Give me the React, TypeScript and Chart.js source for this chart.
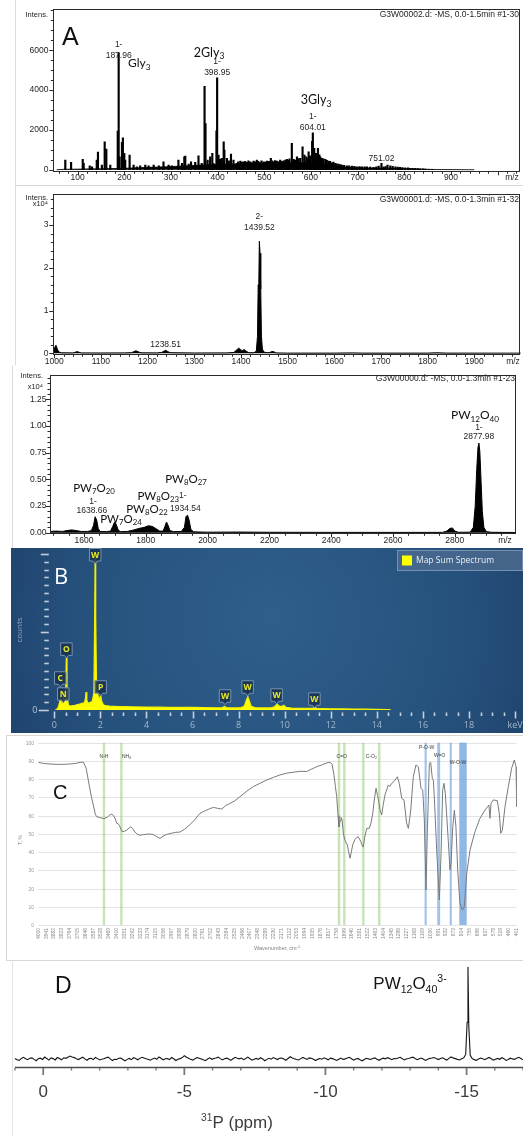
import React, { useEffect, useRef } from "react";
import { Chart, registerables } from "chart.js";

Chart.register(...registerables);

const PAGE_W = 523;
const ARIAL = '"Liberation Sans", Arial, sans-serif';
const LATO = 'Lato, "Open Sans", sans-serif';
const SEGOE = '"Open Sans", "Noto Sans", sans-serif';

type XY = [number, number];

// ================= Panel A : ESI-MS =================
const A1_X_LABELS = [100, 200, 300, 400, 500, 600, 700, 800, 900];
const A1_Y_LABELS = [0, 2000, 4000, 6000];
const A1_STICKS: XY[] = [
  [73.6, 485], [86, 370], [111, 520], [113, 320], [126, 200], [131, 150], [141, 485], [143.6, 885], [152, 230],
  [158, 1400], [161.5, 1036], [170, 234], [186, 1940], [187.96, 5870], [190, 650], [195, 1370], [197, 1600],
  [200, 820], [202, 485], [211.4, 735], [220, 234], [227, 150], [234, 200], [245, 234], [252, 200], [263, 234],
  [274, 200], [284, 400], [295, 234], [302, 200], [316, 485], [323.6, 320], [328.6, 650], [330.7, 685], [338, 284],
  [343, 400], [352, 370], [359, 700], [366, 320], [372, 4190], [374, 2320], [378.6, 485], [384, 650], [388.6, 820],
  [391, 320], [397.5, 1950], [398.95, 4610], [402, 735], [405, 520], [409, 570], [413, 1400], [414.5, 985],
  [420, 570], [424, 450], [428.6, 785], [434, 485], [441, 320], [444, 400], [448.6, 435], [452, 380], [455.7, 400],
  [459, 420], [463, 370], [466, 450], [470, 400], [473, 360], [477, 435], [480, 390], [484, 485], [487, 420],
  [490, 370], [494, 440], [498.6, 400], [502, 380], [505.7, 435], [510, 420], [514, 570], [517, 450], [520, 400],
  [523, 460], [527, 435], [531, 400], [534, 485], [537, 420], [541, 450], [545, 480], [548.6, 520], [551, 470],
  [554, 550], [559, 1320], [563, 520], [566, 480], [570, 650], [573, 560], [577, 570], [582, 1150], [586, 735],
  [590, 650], [593, 560], [595, 900], [598, 700], [602.5, 1430], [604.01, 1850], [607, 1070], [611, 820],
  [615, 1070], [618, 750], [620, 650], [623.6, 570], [627, 540], [631, 520], [634, 470], [638, 435], [641, 420],
  [645, 350], [648, 380], [652, 320], [655, 300], [659, 284], [663, 260], [666, 234], [671, 220], [677, 200],
  [682, 190], [688, 184], [693, 170], [698.6, 150], [704, 160], [709, 150], [715, 140], [720, 150], [727, 130],
  [734, 117], [740, 140], [745, 180], [751.02, 320], [755.7, 150], [760, 160], [764, 234], [770, 200], [775, 170],
  [781, 150], [786, 130], [791, 117], [796, 110], [802, 100], [808, 90], [813, 67], [818, 70], [823.6, 67],
  [829, 60], [834, 50], [840, 45], [845, 33], [852, 25], [860, 20],
];
const A1_BASELINE: XY[] = [
  [55, 0], [70, 20], [100, 30], [150, 50], [200, 70], [230, 100], [250, 120], [270, 130], [290, 150], [310, 170],
  [330, 190], [350, 220], [370, 240], [390, 260], [410, 270], [430, 280], [450, 300], [470, 310], [490, 320],
  [510, 330], [530, 340], [550, 350], [570, 340], [590, 350], [610, 320], [630, 250], [650, 190], [670, 140],
  [690, 110], [710, 95], [730, 85], [750, 80], [770, 75], [790, 65], [810, 50], [830, 35], [850, 20], [870, 10],
  [900, 5], [950, 0],
];

const A2_X_LABELS = [1000, 1100, 1200, 1300, 1400, 1500, 1600, 1700, 1800, 1900];
const A2_Y_LABELS = [0, 1, 2, 3];
const A2_PROFILE: XY[] = [
  [998, 0.02], [1000, 0.1], [1002, 0.16], [1003.5, 0.19], [1005, 0.15], [1007, 0.09], [1010, 0.03], [1015, 0.012],
  [1040, 0.01], [1045, 0.025], [1049, 0.04], [1053, 0.025], [1058, 0.01], [1100, 0.008], [1150, 0.01],
  [1165, 0.015], [1170, 0.035], [1175, 0.06], [1180, 0.035], [1186, 0.012], [1220, 0.01], [1230, 0.02],
  [1235, 0.05], [1238.5, 0.07], [1242, 0.05], [1248, 0.015], [1300, 0.008], [1370, 0.01], [1385, 0.02],
  [1390, 0.07], [1395, 0.12], [1399, 0.09], [1403, 0.06], [1407, 0.09], [1411, 0.05], [1417, 0.015],
  [1428, 0.015], [1433, 0.05], [1435.5, 0.4], [1437, 1.6], [1438.2, 1.52], [1439.5, 2.62], [1441, 2.34],
  [1442.5, 1.5], [1444, 0.4], [1446, 0.1], [1449, 0.03], [1456, 0.015], [1462, 0.02], [1466, 0.04], [1470, 0.04],
  [1475, 0.01], [1500, 0.005], [1600, 0.005], [1640, 0.01], [1660, 0.005], [1800, 0.005], [1820, 0.012],
  [1840, 0.005], [2000, 0.004],
];

const A3_X_LABELS = [1600, 1800, 2000, 2200, 2400, 2600, 2800];
const A3_Y_LABELS = [0, 0.25, 0.5, 0.75, 1.0, 1.25];
const A3_PROFILE: XY[] = [
  [1490, 0.012], [1510, 0.015], [1530, 0.012], [1545, 0.02], [1560, 0.026], [1575, 0.02], [1590, 0.012],
  [1612, 0.012], [1624, 0.02], [1631, 0.07], [1636, 0.15], [1641, 0.12], [1646, 0.04], [1652, 0.012],
  [1672, 0.01], [1686, 0.015], [1693, 0.06], [1699, 0.1], [1704, 0.08], [1710, 0.03], [1717, 0.01],
  [1740, 0.012], [1760, 0.025], [1778, 0.04], [1795, 0.05], [1808, 0.065], [1820, 0.06], [1832, 0.04],
  [1845, 0.015], [1856, 0.015], [1862, 0.06], [1867, 0.1], [1872, 0.07], [1878, 0.02], [1890, 0.01],
  [1915, 0.012], [1925, 0.05], [1930, 0.15], [1935, 0.165], [1940, 0.12], [1946, 0.03], [1955, 0.008],
  [2000, 0.005], [2100, 0.006], [2200, 0.004], [2400, 0.003], [2600, 0.003], [2760, 0.003], [2774, 0.015],
  [2784, 0.04], [2792, 0.045], [2800, 0.015], [2812, 0.004], [2850, 0.005], [2860, 0.05], [2866, 0.25],
  [2871, 0.6], [2875, 0.8], [2878, 0.84], [2881, 0.76], [2885, 0.48], [2889, 0.2], [2894, 0.05], [2902, 0.01],
  [2920, 0.004], [2998, 0.002],
];

// ================= Panel B : EDS =================
const B_X_LABELS = [0, 2, 4, 6, 8, 10, 12, 14, 16, 18];
const B_SPECTRUM: XY[] = [
  [0.05, 0], [0.15, 0.2], [0.22, 0.8], [0.27, 1.7], [0.31, 1.0], [0.35, 0.9], [0.39, 1.8], [0.43, 1.1],
  [0.47, 1.4], [0.5, 3.5], [0.525, 6.7], [0.55, 3.0], [0.58, 1.2], [0.62, 0.6], [0.7, 0.5], [0.8, 0.55],
  [0.9, 0.6], [1.0, 0.7], [1.1, 0.75], [1.2, 0.85], [1.3, 0.9], [1.35, 1.4], [1.38, 2.3], [1.41, 1.3],
  [1.45, 0.9], [1.55, 0.95], [1.65, 1.1], [1.72, 2.2], [1.755, 12], [1.775, 19.9], [1.795, 12], [1.83, 3.2],
  [1.87, 2.2], [1.92, 1.6], [1.97, 1.3], [2.01, 1.9], [2.05, 1.2], [2.12, 0.7], [2.2, 0.55], [2.4, 0.5],
  [2.7, 0.45], [3.0, 0.42], [3.5, 0.4], [4.0, 0.38], [4.5, 0.36], [5.0, 0.34], [5.5, 0.33], [6.0, 0.32],
  [6.5, 0.3], [7.0, 0.28], [7.3, 0.3], [7.39, 0.45], [7.48, 0.28], [7.8, 0.27], [8.1, 0.28], [8.25, 0.5],
  [8.33, 1.2], [8.4, 1.7], [8.47, 1.1], [8.55, 0.45], [8.7, 0.3], [9.0, 0.27], [9.4, 0.27], [9.55, 0.4],
  [9.67, 0.75], [9.78, 0.45], [9.88, 0.45], [9.96, 0.6], [10.05, 0.35], [10.3, 0.25], [10.8, 0.2], [11.2, 0.2],
  [11.29, 0.3], [11.4, 0.2], [12.0, 0.15], [12.5, 0.13], [13.0, 0.12], [13.5, 0.1], [14.0, 0.08], [14.5, 0.05],
  [14.6, 0],
];
const B_ELEMENTS = ["W", "O", "C", "N", "P", "W", "W", "W", "W"];
const B_ELEMENT_KEV = [1.775, 0.525, 0.26, 0.39, 2.013, 7.41, 8.39, 9.65, 11.29];
const B_TAG_LEVEL = [19.9, 7.8, 4.1, 2.05, 2.95, 1.8, 2.95, 1.92, 1.41];

// ================= Panel C : FT-IR =================
const C_X_LABELS = [
  4000, 3941, 3882, 3823, 3764, 3705, 3646, 3587, 3528, 3469, 3410, 3351, 3292, 3233, 3174, 3115, 3056, 2997,
  2938, 2879, 2820, 2761, 2702, 2643, 2584, 2525, 2466, 2407, 2348, 2289, 2230, 2171, 2112, 2053, 1994, 1935,
  1876, 1817, 1758, 1699, 1640, 1581, 1522, 1463, 1404, 1345, 1286, 1227, 1168, 1109, 1050, 991, 932, 873, 814,
  755, 696, 637, 578, 519, 460, 401,
];
const C_Y_LABELS = [0, 10, 20, 30, 40, 50, 60, 70, 80, 90, 100];
const C_SPECTRUM: XY[] = [
  [4000, 89.2], [3960, 88.6], [3912, 88.3], [3850, 88.1], [3786, 88.2], [3720, 88.6], [3686, 89.2], [3660, 89.3],
  [3640, 86], [3624, 79.5], [3600, 70], [3586, 65.8], [3572, 61], [3561, 59.4], [3530, 58.8], [3506, 58.3],
  [3480, 59.2], [3460, 60.5], [3448, 60.8], [3435, 60.2], [3423, 58.5], [3410, 55.8], [3398, 55.5], [3390, 54.6],
  [3370, 51.2], [3352, 51.5], [3335, 52], [3318, 53.2], [3303, 53.9], [3290, 52.8], [3273, 51], [3255, 49.8],
  [3235, 49.2], [3210, 49.6], [3185, 49.8], [3160, 49.9], [3135, 49.6], [3110, 48.5], [3084, 47.5], [3060, 48.8],
  [3034, 49.7], [3000, 50.3], [2970, 50.8], [2934, 51], [2900, 52.5], [2860, 55], [2820, 58], [2783, 61.3],
  [2750, 62.5], [2710, 63.8], [2683, 64.5], [2650, 64], [2620, 63.6], [2590, 65.5], [2558, 66.7], [2520, 68.2],
  [2483, 70.4], [2430, 73.5], [2383, 75.9], [2330, 77.8], [2282, 79.5], [2230, 81], [2182, 82.3], [2130, 83.3],
  [2082, 83.8], [2030, 84.3], [1981, 84.2], [1945, 85.5], [1906, 86.8], [1860, 88], [1818, 89.2], [1800, 89],
  [1790, 88.2], [1775, 82], [1765, 76], [1755, 70.4], [1745, 60], [1738, 53.9], [1730, 57], [1723, 59],
  [1715, 58], [1705, 50], [1693, 46.6], [1675, 43.9], [1665, 40], [1655, 36.6], [1645, 40], [1635, 43.9],
  [1617, 47], [1605, 48], [1593, 48.4], [1575, 46], [1560, 43], [1555, 42.9], [1545, 48], [1529, 53],
  [1510, 53], [1497, 56], [1484, 61.3], [1470, 70], [1459, 75], [1448, 71], [1441, 68.6], [1429, 63],
  [1417, 60.3], [1405, 66], [1392, 71.3], [1380, 74], [1367, 76.8], [1355, 76], [1341, 77.7], [1328, 78.5],
  [1316, 79.5], [1299, 81.3], [1284, 77.7], [1266, 69.5], [1249, 68.6], [1240, 63], [1229, 55.8], [1216, 53],
  [1198, 63], [1179, 81.3], [1159, 87.8], [1141, 86.8], [1121, 75], [1108, 74], [1096, 57.6], [1083, 19.2],
  [1073, 52], [1058, 88.7], [1048, 89.2], [1036, 80.5], [1028, 79.5], [1021, 70.4], [1003, 41.1], [983, 13.7],
  [970, 39.3], [958, 74], [948, 77.7], [938, 72.2], [916, 46.6], [903, 30.2], [895, 33.8], [882, 53.9], [870, 63],
  [858, 53.9], [845, 30.2], [828, 11.9], [810, 8.2], [795, 10], [777, 28.4], [752, 41.1], [715, 51.2],
  [677, 58.5], [640, 63], [610, 65.8], [602, 58.5], [594, 66.7], [577, 68.6], [547, 68.2], [532, 61.3],
  [521, 50.3], [509, 52], [489, 64.9], [464, 75.9], [439, 86], [419, 90.5], [406, 86.8], [401, 64.9],
];
const C_GREEN_LINES = [3506, 3375, 1738, 1698, 1555, 1435];
const C_BLUE_LINES = [1086, 988, 897];
const C_BLUE_BAND: XY = [833, 777];
const C_BAND_TEXT = ["N-H", "NH_3", "C=O", "C-O_2", "P-O-W", "W=O", "W-O-W"];

// ================= Panel D : 31P NMR =================
const D_X_LABELS = [0, -5, -10, -15];
const D_SPECTRUM: XY[] = [
  [1.0, 0.5], [0.925, -0.8], [0.85, -1.5], [0.775, 0.6], [0.7, 1.8], [0.625, 0.2], [0.55, -0.8], [0.475, 0.9],
  [0.4, 1.2], [0.325, -0.4], [0.25, -1.9], [0.175, 0.3], [0.1, 0.9], [0.025, -0.5], [-0.05, 2.1], [-0.125, 0.6],
  [-0.2, -1.2], [-0.275, 1.1], [-0.35, 0.4], [-0.425, -1.0], [-0.5, 1.6], [-0.575, 0.5], [-0.65, -0.9],
  [-0.725, 1.3], [-0.8, 0.7], [-0.875, 2.0], [-0.95, 3.2], [-1.025, 2.2], [-1.1, 1.5], [-1.175, 0.2],
  [-1.25, -0.6], [-1.325, 0.8], [-1.4, 1.9], [-1.475, 0.1], [-1.55, -1.4], [-1.625, 0.4], [-1.7, 0.8],
  [-1.775, -0.7], [-1.85, 1.7], [-1.925, 0.4], [-2.0, -1.1], [-2.075, -0.2], [-2.15, 0.3], [-2.225, 1.4],
  [-2.3, 2.0], [-2.375, 0.2], [-2.45, -1.7], [-2.525, -0.3], [-2.6, -0.5], [-2.675, 0.9], [-2.75, 1.1],
  [-2.825, -0.6], [-2.9, -2.0], [-2.975, -0.4], [-3.05, 0.6], [-3.125, -0.7], [-3.2, 1.4], [-3.275, 0.5],
  [-3.35, -0.8], [-3.425, 0.7], [-3.5, 1.9], [-3.575, 1.0], [-3.65, 0.2], [-3.725, -0.5], [-3.8, -1.3],
  [-3.875, 0.1], [-3.95, 1.0], [-4.025, -0.3], [-4.1, 2.2], [-4.175, 0.8], [-4.25, -0.9], [-4.325, 0.2],
  [-4.4, 0.5], [-4.475, -0.6], [-4.55, 1.6], [-4.625, 0.3], [-4.7, -1.6], [-4.775, -0.2], [-4.85, 0.4],
  [-4.925, 1.5], [-5.0, 3.6], [-5.075, 1.9], [-5.15, 0.8], [-5.225, -0.4], [-5.3, -1.2], [-5.375, 0.2],
  [-5.45, 1.5], [-5.525, 0.9], [-5.6, 0.1], [-5.675, -0.9], [-5.75, -1.8], [-5.825, 0.0], [-5.9, 1.3],
  [-5.975, -0.3], [-6.05, 0.5], [-6.125, 1.1], [-6.2, 2.0], [-6.275, 0.4], [-6.35, -1.0], [-6.425, 0.3],
  [-6.5, 0.9], [-6.575, 0.0], [-6.65, -1.5], [-6.725, 0.2], [-6.8, 1.8], [-6.875, 0.9], [-6.95, 0.2],
  [-7.025, 1.0], [-7.1, -0.7], [-7.175, 0.6], [-7.25, 2.1], [-7.325, 0.3], [-7.4, -1.3], [-7.475, -0.2],
  [-7.55, 0.6], [-7.625, -0.5], [-7.7, 1.4], [-7.775, 0.1], [-7.85, -1.9], [-7.925, -0.4], [-8.0, 0.7],
  [-8.075, -0.2], [-8.15, 1.6], [-8.225, 0.5], [-8.3, -0.6], [-8.375, 0.8], [-8.45, 1.1], [-8.525, -0.1],
  [-8.6, -1.4], [-8.675, 0.6], [-8.75, 2.4], [-8.825, 1.0], [-8.9, 0.3], [-8.975, -0.6], [-9.05, -1.1],
  [-9.125, 0.4], [-9.2, 1.7], [-9.275, 0.6], [-9.35, -0.4], [-9.425, 1.2], [-9.5, 0.9], [-9.575, -0.3],
  [-9.65, -1.7], [-9.725, -0.4], [-9.8, 0.5], [-9.875, -0.2], [-9.95, 1.3], [-10.025, 0.2], [-10.1, -0.9],
  [-10.175, 0.9], [-10.25, 0.4], [-10.325, -0.5], [-10.4, -1.6], [-10.475, -0.3], [-10.55, 1.0],
  [-10.625, -0.4], [-10.7, 0.1], [-10.775, 1.2], [-10.85, 1.9], [-10.925, 0.3], [-11.0, -1.2], [-11.075, -0.1],
  [-11.15, 0.6], [-11.225, -0.8], [-11.3, -2.0], [-11.375, -0.6], [-11.45, 0.8], [-11.525, 0.1], [-11.6, -0.5],
  [-11.675, 0.6], [-11.75, 1.2], [-11.825, -0.2], [-11.9, -1.4], [-11.975, 0.0], [-12.05, 0.9], [-12.125, 0.2],
  [-12.2, 1.5], [-12.275, 0.6], [-12.35, -0.7], [-12.425, 0.5], [-12.5, 0.3], [-12.575, 1.1], [-12.65, 1.8],
  [-12.725, 0.3], [-12.8, -1.0], [-12.875, 0.2], [-12.95, 0.6], [-13.025, 1.4], [-13.1, 2.0], [-13.175, 0.5],
  [-13.25, -0.8], [-13.325, 0.3], [-13.4, 1.1], [-13.475, -0.2], [-13.55, -1.5], [-13.625, -0.3], [-13.7, 0.7],
  [-13.775, 1.0], [-13.85, 1.6], [-13.925, 0.4], [-14.0, -0.6], [-14.075, 0.6], [-14.15, 1.3], [-14.225, 0.1],
  [-14.3, -1.2], [-14.375, 0.7], [-14.45, 2.2], [-14.525, 1.2], [-14.6, 0.4], [-14.675, -0.4], [-14.75, -1.0],
  [-14.825, 0.3], [-14.9, 1.2], [-14.97, 5], [-15.02, 40], [-15.05, 100], [-15.08, 35], [-15.13, 4],
  [-15.2, 0.5], [-15.275, -0.7], [-15.35, -1.5], [-15.425, -0.1], [-15.5, 1.0], [-15.575, 0.2], [-15.65, -0.8],
  [-15.725, 0.5], [-15.8, 1.7], [-15.875, 0.3], [-15.95, -1.2], [-16.025, -0.2], [-16.1, 0.6], [-16.175, -0.3],
  [-16.25, 1.4], [-16.325, 0.4], [-16.4, -1.6], [-16.475, -0.5], [-16.55, 0.9], [-16.625, 0.1], [-16.7, -0.4],
  [-16.775, 0.8], [-16.85, 1.8], [-16.925, 0.5], [-17.0, -0.9],
];

// ================= helpers =================
type Seg = [string, number];
const pts = (a: XY[]) => a.map(([x, y]) => ({ x, y }));

function fm(s: string): Seg[] {
  const out: Seg[] = [];
  const re = /_(\d+)|\^(\S+)|([^_^]+)/g;
  let m: RegExpExecArray | null;
  while ((m = re.exec(s))) {
    if (m[1]) out.push([m[1], 1]);
    else if (m[2]) out.push([m[2], 2]);
    else out.push([m[3], 0]);
  }
  return out;
}

function rich(ctx: CanvasRenderingContext2D, segs: Seg[], x: number, y: number, size: number, family: string,
  color: string, align: "left" | "center" | "right" = "center", small = 0.68) {
  ctx.save();
  ctx.fillStyle = color;
  ctx.textBaseline = "alphabetic";
  ctx.textAlign = "left";
  const f = (k: number) => `${k ? size * small : size}px ${family}`;
  let w = 0;
  for (const [t, k] of segs) { ctx.font = f(k); w += ctx.measureText(t).width; }
  let cx = align === "left" ? x : align === "center" ? x - w / 2 : x - w;
  const base = y + size * 0.36;
  for (const [t, k] of segs) {
    ctx.font = f(k);
    const dy = k === 1 ? size * 0.2 : k === 2 ? -size * 0.4 : 0;
    ctx.fillText(t, cx, base + dy);
    cx += ctx.measureText(t).width;
  }
  ctx.restore();
}

function txt(ctx: CanvasRenderingContext2D, s: string, x: number, y: number, font: string, color: string,
  align: CanvasTextAlign = "center", rot = 0) {
  ctx.save();
  ctx.font = font;
  ctx.fillStyle = color;
  ctx.textAlign = align;
  ctx.textBaseline = "middle";
  ctx.translate(x, y);
  if (rot) ctx.rotate(rot);
  ctx.fillText(s, 0, 0);
  ctx.restore();
}

function seg(ctx: CanvasRenderingContext2D, x1: number, y1: number, x2: number, y2: number, color: string, w = 1) {
  ctx.save();
  ctx.strokeStyle = color;
  ctx.lineWidth = w;
  ctx.beginPath();
  ctx.moveTo(x1, y1);
  ctx.lineTo(x2, y2);
  ctx.stroke();
  ctx.restore();
}

function stepsIn(min: number, max: number, step: number) {
  const out: number[] = [];
  for (let i = Math.ceil(min / step - 1e-9); i * step <= max + 1e-9; i++) out.push(+(i * step).toFixed(6));
  return out;
}

function mkConfig(type: string, datasets: any[], pad: any, x: any, y: any, deco: any) {
  return {
    type,
    data: { datasets },
    options: {
      responsive: false,
      maintainAspectRatio: false,
      animation: false,
      devicePixelRatio: 1,
      events: [],
      layout: { padding: pad },
      plugins: { legend: { display: false }, tooltip: { enabled: false } },
      scales: {
        x: { type: "linear", display: false, offset: false, grid: { offset: false }, ...x },
        y: { type: "linear", display: false, ...y },
      },
    },
    plugins: [deco],
  };
}

interface BrukerOpts {
  yLabels: number[]; yFmt: (v: number) => string; yMinor: number; yLabelRight: number;
  xLabels: number[]; xMinor: number; xMajor: number; xLabelY: number; mzX: number;
}

function brukerAxes(chart: any, o: BrukerOpts) {
  const { ctx, chartArea: a } = chart;
  const xs = chart.scales.x, ys = chart.scales.y;
  const ink = "#1e1e1e";
  ctx.save();
  ctx.strokeStyle = "#2a2a2a";
  ctx.lineWidth = 1;
  ctx.beginPath();
  for (const v of stepsIn(ys.min, ys.max, o.yMinor)) {
    const py = Math.round(ys.getPixelForValue(v)) + 0.5;
    const major = o.yLabels.some((l) => Math.abs(l - v) < 1e-6);
    ctx.moveTo(a.left - (major ? 4 : 2.5), py);
    ctx.lineTo(a.left, py);
  }
  for (const v of stepsIn(xs.min, xs.max, o.xMinor)) {
    const px = Math.round(xs.getPixelForValue(v)) + 0.5;
    const major = Math.abs(v / o.xMajor - Math.round(v / o.xMajor)) < 1e-6;
    ctx.moveTo(px, a.bottom);
    ctx.lineTo(px, a.bottom + (major ? 4 : 2.5));
  }
  ctx.stroke();
  ctx.strokeRect(Math.round(a.left) + 0.5, Math.round(a.top) + 0.5, Math.round(a.right - a.left) - 1,
    Math.round(a.bottom - a.top));
  ctx.restore();
  for (const v of o.yLabels) txt(ctx, o.yFmt(v), o.yLabelRight, ys.getPixelForValue(v), `8.5px ${ARIAL}`, ink, "right");
  for (const v of o.xLabels) txt(ctx, String(v), xs.getPixelForValue(v), o.xLabelY, `8.5px ${ARIAL}`, ink, "center");
  txt(ctx, "m/z", o.mzX, o.xLabelY, `8.5px ${ARIAL}`, ink, "center");
}

const INK = "#1e1e1e";

// ================= chart builders =================
function buildA1() {
  const deco = {
    id: "decoA1",
    afterDatasetsDraw(chart: any) {
      const { ctx } = chart;
      const xs = chart.scales.x;
      seg(ctx, 15.5, 0, 15.5, 186, "#dcdcdc");
      seg(ctx, 15, 185.5, PAGE_W, 185.5, "#d8d8d8");
      brukerAxes(chart, {
        yLabels: A1_Y_LABELS, yFmt: (v) => String(v), yMinor: 500, yLabelRight: 48.5,
        xLabels: A1_X_LABELS, xMinor: 20, xMajor: 100, xLabelY: 178, mzX: 512,
      });
      txt(ctx, "Intens.", 48, 15, `7.5px ${ARIAL}`, INK, "right");
      txt(ctx, "G3W00002.d: -MS, 0.0-1.5min #1-30", 519, 15, `8.5px ${ARIAL}`, INK, "right");
      txt(ctx, "A", 62, 38, `25px ${ARIAL}`, "#111", "left");
      const peakLbl = (mz: number, lines: string[], y0: number) =>
        lines.forEach((s, i) => txt(ctx, s, xs.getPixelForValue(mz), y0 + i * 11, `8.5px ${ARIAL}`, INK, "center"));
      peakLbl(187.96, ["1-", "187.96"], 45);
      peakLbl(398.95, ["1-", "398.95"], 61.5);
      peakLbl(604.01, ["1-", "604.01"], 117);
      peakLbl(751.02, ["751.02"], 158.5);
      rich(ctx, fm("Gly_3"), 128, 63, 12, LATO, "#111", "left");
      rich(ctx, fm("2Gly_3"), 209, 52, 12.5, LATO, "#111", "center");
      rich(ctx, fm("3Gly_3"), 316, 99.5, 12.5, LATO, "#111", "center");
    },
  };
  return mkConfig("bar", [
    { type: "line", data: pts(A1_BASELINE), borderColor: "#000", borderWidth: 0.8, backgroundColor: "#000",
      fill: "origin", pointRadius: 0, tension: 0, order: 2 },
    { type: "bar", data: pts(A1_STICKS), backgroundColor: "#000", borderWidth: 0, barThickness: 1.5,
      grouped: false, order: 1 },
  ], { left: 53.3, top: 9, right: 2.3, bottom: 14.7 }, { min: 47.9, max: 1049.4 }, { min: -80, max: 8070 }, deco);
}

function buildA2() {
  const deco = {
    id: "decoA2",
    afterDatasetsDraw(chart: any) {
      const { ctx } = chart;
      const xs = chart.scales.x;
      seg(ctx, 15.5, 0, 15.5, 179, "#dcdcdc");
      brukerAxes(chart, {
        yLabels: A2_Y_LABELS, yFmt: (v) => String(v), yMinor: 0.2, yLabelRight: 48.5,
        xLabels: A2_X_LABELS, xMinor: 20, xMajor: 100, xLabelY: 175.7, mzX: 513,
      });
      txt(ctx, "Intens.", 48, 11.5, `7.5px ${ARIAL}`, INK, "right");
      txt(ctx, "x10⁴", 48, 17.8, `7.5px ${ARIAL}`, INK, "right");
      txt(ctx, "G3W00001.d: -MS, 0.0-1.3min #1-32", 519, 14, `8.5px ${ARIAL}`, INK, "right");
      txt(ctx, "2-", xs.getPixelForValue(1439.52), 30.7, `8.5px ${ARIAL}`, INK, "center");
      txt(ctx, "1439.52", xs.getPixelForValue(1439.52), 42, `8.5px ${ARIAL}`, INK, "center");
      txt(ctx, "1238.51", xs.getPixelForValue(1238.51), 159, `8.5px ${ARIAL}`, INK, "center");
    },
  };
  return mkConfig("line", [
    { data: pts(A2_PROFILE), borderColor: "#000", borderWidth: 1, backgroundColor: "#000", fill: "origin",
      pointRadius: 0, tension: 0 },
  ], { left: 53.3, top: 8, right: 2.3, bottom: 10.7 }, { min: 998, max: 1999.5 }, { min: -0.023, max: 3.725 }, deco);
}

function buildA3() {
  const deco = {
    id: "decoA3",
    afterDatasetsDraw(chart: any) {
      const { ctx } = chart;
      const xs = chart.scales.x;
      seg(ctx, 12.5, 0, 12.5, 183, "#dcdcdc");
      brukerAxes(chart, {
        yLabels: A3_Y_LABELS, yFmt: (v) => v.toFixed(2), yMinor: 0.05, yLabelRight: 46.5,
        xLabels: A3_X_LABELS, xMinor: 50, xMajor: 200, xLabelY: 175.5, mzX: 505,
      });
      txt(ctx, "Intens.", 43, 10.8, `7.5px ${ARIAL}`, INK, "right");
      txt(ctx, "x10⁴", 43, 22, `7.5px ${ARIAL}`, INK, "right");
      txt(ctx, "G3W00000.d: -MS, 0.0-1.3min #1-23", 515, 14, `8.5px ${ARIAL}`, INK, "right");
      rich(ctx, fm("PW_7O_20"), 94, 123, 11.5, LATO, "#111");
      txt(ctx, "1-", 93, 136.7, `8.5px ${ARIAL}`, INK);
      txt(ctx, "1638.66", xs.getPixelForValue(1638.66) - 4, 146, `8.5px ${ARIAL}`, INK);
      rich(ctx, fm("PW_7O_24"), 121, 154, 11.5, LATO, "#111");
      rich(ctx, fm("PW_8O_22"), 147, 144, 11.5, LATO, "#111");
      rich(ctx, fm("PW_8O_23"), 179, 130.7, 11.5, LATO, "#111", "right");
      txt(ctx, "1-", 179, 130.7, `8.5px ${ARIAL}`, INK, "left");
      txt(ctx, "1934.54", xs.getPixelForValue(1934.54) - 2, 144, `8.5px ${ARIAL}`, INK);
      rich(ctx, fm("PW_8O_27"), 186, 114, 11.5, LATO, "#111");
      rich(ctx, fm("PW_12O_40"), 475, 50, 12, LATO, "#111");
      txt(ctx, "1-", xs.getPixelForValue(2877.98), 63, `8.5px ${ARIAL}`, INK);
      txt(ctx, "2877.98", xs.getPixelForValue(2877.98), 72, `8.5px ${ARIAL}`, INK);
    },
  };
  return mkConfig("line", [
    { data: pts(A3_PROFILE), borderColor: "#000", borderWidth: 1, backgroundColor: "#000", fill: "origin",
      pointRadius: 0, tension: 0 },
  ], { left: 50, top: 10, right: 7, bottom: 14.7 }, { min: 1490, max: 2998 }, { min: -0.0056, max: 1.478 }, deco);
}

function buildB() {
  const deco = {
    id: "decoB",
    beforeDatasetsDraw(chart: any) {
      const { ctx } = chart;
      const g = ctx.createRadialGradient(270, 70, 10, 270, 90, 330);
      g.addColorStop(0, "#2f5e8a");
      g.addColorStop(0.6, "#25507c");
      g.addColorStop(1, "#1c3c62");
      ctx.save();
      ctx.fillStyle = g;
      ctx.fillRect(11, 3, PAGE_W - 11, 185);
      ctx.restore();
      const xs = chart.scales.x, ys = chart.scales.y;
      const a = chart.chartArea;
      for (const v of stepsIn(0, 20, 1)) {
        const py = Math.round(ys.getPixelForValue(v)) + 0.5;
        const len = v === 0 ? 10 : v % 10 === 0 ? 8 : 4.5;
        seg(ctx, a.left - 5.5 - len, py, a.left - 5.5, py, "#c4cfdd", 1.6);
      }
      txt(ctx, "0", 37.5, ys.getPixelForValue(0), `9px ${SEGOE}`, "#b7c5d6", "right");
      for (const v of stepsIn(0, 20, 0.5)) {
        const px = Math.round(xs.getPixelForValue(v)) + 0.5;
        const major = v % 2 === 0;
        seg(ctx, px, a.bottom + (major ? 1.5 : 2.5), px, a.bottom + (major ? 8.5 : 6), "#c4cfdd", 1.6);
      }
      for (const v of B_X_LABELS) txt(ctx, String(v), xs.getPixelForValue(v), 180, `9px ${SEGOE}`, "#a5b7cc");
      txt(ctx, "keV", xs.getPixelForValue(20), 180, `9px ${SEGOE}`, "#a5b7cc");
      txt(ctx, "counts", 20, 85, `8px ${SEGOE}`, "#8ea6c2", "center", -Math.PI / 2);
      txt(ctx, "B", 54, 33, `22px ${SEGOE}`, "#ffffff", "left");
    },
    afterDatasetsDraw(chart: any) {
      const { ctx } = chart;
      const xs = chart.scales.x, ys = chart.scales.y;
      B_ELEMENTS.forEach((el, i) => {
        const cx = xs.getPixelForValue(B_ELEMENT_KEV[i]);
        const cy = ys.getPixelForValue(B_TAG_LEVEL[i]);
        const w = 11.5, h = 12.5;
        ctx.save();
        ctx.fillStyle = "rgba(24,50,82,0.88)";
        ctx.strokeStyle = "#7892b3";
        ctx.lineWidth = 1;
        ctx.beginPath();
        ctx.moveTo(cx - w / 2, cy - h / 2);
        ctx.lineTo(cx + w / 2, cy - h / 2);
        ctx.lineTo(cx + w / 2, cy + h / 2);
        ctx.lineTo(cx + 2, cy + h / 2);
        ctx.lineTo(cx, cy + h / 2 + 2.5);
        ctx.lineTo(cx - 2, cy + h / 2);
        ctx.lineTo(cx - w / 2, cy + h / 2);
        ctx.closePath();
        ctx.fill();
        ctx.stroke();
        ctx.restore();
        txt(ctx, el, cx, cy + 0.5, `bold 8.5px ${SEGOE}`, "#eaea22");
      });
      ctx.save();
      ctx.fillStyle = "rgba(80,110,145,0.75)";
      ctx.fillRect(397, 5, PAGE_W - 397, 21);
      ctx.strokeStyle = "rgba(150,175,205,0.6)";
      ctx.strokeRect(397.5, 5.5, PAGE_W - 398, 20);
      ctx.fillStyle = "#ffff00";
      ctx.fillRect(402, 10.5, 10, 10);
      ctx.restore();
      txt(ctx, "Map Sum Spectrum", 416, 16, `8.5px ${SEGOE}`, "#e8eef5", "left");
    },
  };
  return mkConfig("line", [
    { data: pts(B_SPECTRUM), borderColor: "#f2f200", borderWidth: 1.3, backgroundColor: "#ffff00", fill: "origin",
      pointRadius: 0, tension: 0 },
  ], { left: 54.3, top: 9, right: 7.9, bottom: 25 }, { min: 0, max: 20 }, { min: 0, max: 20 }, deco);
}

function buildC() {
  const deco = {
    id: "decoC",
    beforeDatasetsDraw(chart: any) {
      const { ctx, chartArea: a } = chart;
      const xs = chart.scales.x, ys = chart.scales.y;
      ctx.save();
      ctx.strokeStyle = "#d6d6d6";
      ctx.lineWidth = 1;
      ctx.strokeRect(6.5, 0.5, PAGE_W - 6, 225);
      ctx.restore();
      for (const v of C_Y_LABELS) {
        const py = Math.round(ys.getPixelForValue(v)) + 0.5;
        seg(ctx, a.left, py, a.right, py, "#e3e3e3", 1);
        txt(ctx, String(v), 34, py, `5px ${ARIAL}`, "#9a9a9a", "right");
      }
      const lw = (w: number) => Math.abs(xs.getPixelForValue(0) - xs.getPixelForValue(w));
      for (const wn of C_GREEN_LINES) {
        const px = xs.getPixelForValue(wn);
        ctx.save();
        ctx.fillStyle = "rgba(150,205,120,0.55)";
        ctx.fillRect(px - lw(9), a.top, lw(18), a.bottom - a.top);
        ctx.restore();
      }
      C_BLUE_LINES.forEach((wn, i) => {
        const px = xs.getPixelForValue(wn);
        const w = i === 1 ? 22 : 16;
        ctx.save();
        ctx.fillStyle = "rgba(120,170,225,0.7)";
        ctx.fillRect(px - lw(w / 2), a.top, lw(w), a.bottom - a.top);
        ctx.restore();
      });
      const b0 = xs.getPixelForValue(C_BLUE_BAND[0]);
      const b1 = xs.getPixelForValue(C_BLUE_BAND[1]);
      ctx.save();
      ctx.fillStyle = "rgba(105,160,220,0.75)";
      ctx.fillRect(b0, a.top, b1 - b0, a.bottom - a.top);
      ctx.restore();
      for (const v of C_X_LABELS) {
        txt(ctx, String(v), xs.getPixelForValue(v), a.bottom + 3, `5px ${ARIAL}`, "#8a8a8a", "right", -Math.PI / 2);
      }
      txt(ctx, "T, %", 20.7, 105, `5px ${ARIAL}`, "#777", "center", -Math.PI / 2);
      rich(ctx, [["Wavenumber, cm", 0], ["-1", 2]], 277, 213, 5.5, ARIAL, "#808080");
      txt(ctx, "C", 53, 58, `20px ${ARIAL}`, "#111", "left");
    },
    afterDatasetsDraw(chart: any) {
      const { ctx } = chart;
      const xs = chart.scales.x;
      const col = "#3a3a3a";
      const at = (wn: number) => xs.getPixelForValue(wn);
      rich(ctx, fm(C_BAND_TEXT[0]), at(C_GREEN_LINES[0]), 20.7, 5, ARIAL, col);
      rich(ctx, fm(C_BAND_TEXT[1]), at(C_GREEN_LINES[1]) + 0.5, 20.7, 5, ARIAL, col, "left");
      rich(ctx, fm(C_BAND_TEXT[2]), (at(C_GREEN_LINES[2]) + at(C_GREEN_LINES[3])) / 2, 20.7, 5, ARIAL, col);
      rich(ctx, fm(C_BAND_TEXT[3]), (at(C_GREEN_LINES[4]) + at(C_GREEN_LINES[5])) / 2, 20.7, 5, ARIAL, col);
      rich(ctx, fm(C_BAND_TEXT[4]), at(C_BLUE_LINES[0]) + 1, 12.3, 5, ARIAL, col);
      rich(ctx, fm(C_BAND_TEXT[5]), at(C_BLUE_LINES[1]) + 1, 20, 5, ARIAL, col);
      rich(ctx, fm(C_BAND_TEXT[6]), (at(C_BLUE_BAND[0]) + at(C_BLUE_BAND[1])) / 2 - 5, 27.3, 5, ARIAL, col);
    },
  };
  return mkConfig("line", [
    { data: pts(C_SPECTRUM), borderColor: "#7a7a7a", borderWidth: 1, fill: false, pointRadius: 0, tension: 0 },
  ], { left: 38.3, top: 7.7, right: 6.3, bottom: 37 }, { min: 401, max: 4000, reverse: true }, { min: 0, max: 100 }, deco);
}

function buildD() {
  const deco = {
    id: "decoD",
    afterDatasetsDraw(chart: any) {
      const { ctx, chartArea: a } = chart;
      const xs = chart.scales.x;
      seg(ctx, 12.5, 0, 12.5, 174, "#e2e2e2");
      seg(ctx, 15, a.bottom + 0.5, PAGE_W, a.bottom + 0.5, "#4d4d4d", 1.4);
      for (const v of stepsIn(-17, 1, 1)) {
        const px = xs.getPixelForValue(v);
        const major = v % 5 === 0;
        seg(ctx, px, a.bottom + 1, px, a.bottom + (major ? 8 : 3.5), "#7a7a7a", major ? 1.8 : 1.4);
      }
      for (const v of D_X_LABELS) txt(ctx, String(v), xs.getPixelForValue(v), 130, `17px ${ARIAL}`, "#3c3c3c");
      rich(ctx, [["31", 2], ["P (ppm)", 0]], 237, 160, 17, ARIAL, "#3c3c3c", "center", 0.6);
      txt(ctx, "D", 55, 25, `23px ${ARIAL}`, "#111", "left");
      rich(ctx, fm("PW_12O_40^3-"), 410, 21, 17, ARIAL, "#151515", "center", 0.62);
    },
  };
  return mkConfig("line", [
    { data: pts(D_SPECTRUM), borderColor: "#151515", borderWidth: 1.1, fill: false, pointRadius: 0, tension: 0 },
  ], { left: 15, top: 5, right: 0, bottom: 69 }, { min: -17, max: 1, reverse: true }, { min: -8.7, max: 100 }, deco);
}

function ChartPanel({ top, height, build }: { top: number; height: number; build: () => any }) {
  const ref = useRef<HTMLCanvasElement | null>(null);
  useEffect(() => {
    const chart = new Chart(ref.current as HTMLCanvasElement, build());
    return () => chart.destroy();
  }, []);
  return (
    <canvas
      ref={ref}
      width={PAGE_W}
      height={height}
      style={{ position: "absolute", left: 0, top, width: PAGE_W, height, display: "block" }}
    />
  );
}

export default function App() {
  return (
    <div style={{ position: "absolute", left: 0, top: 0, width: PAGE_W, height: 1136, background: "#fff", overflow: "hidden" }}>
      <ChartPanel top={0} height={186} build={buildA1} />
      <ChartPanel top={186} height={179} build={buildA2} />
      <ChartPanel top={365} height={183} build={buildA3} />
      <ChartPanel top={545} height={190} build={buildB} />
      <ChartPanel top={735} height={227} build={buildC} />
      <ChartPanel top={962} height={174} build={buildD} />
    </div>
  );
}
